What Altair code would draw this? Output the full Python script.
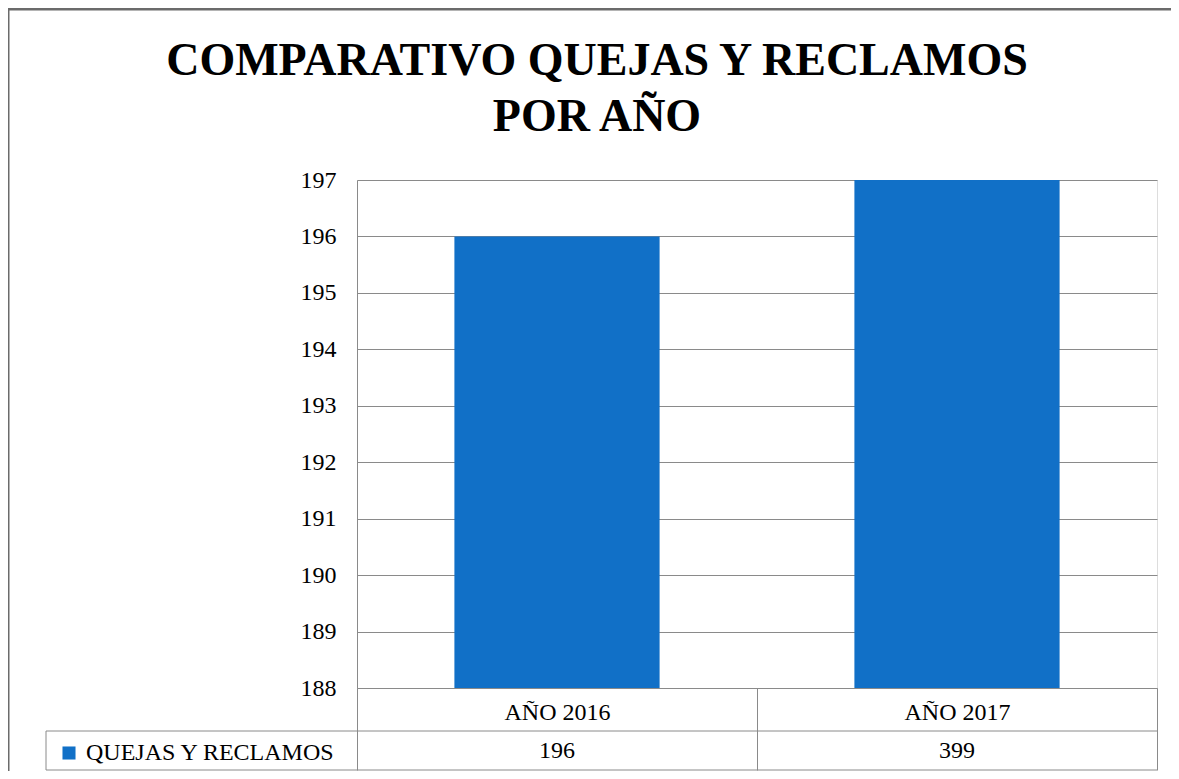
import altair as alt
import pandas as pd

# ---- data ----
categorias = ["AÑO 2016", "AÑO 2017"]
valores = [196, 399]
serie = ["QUEJAS Y RECLAMOS", "QUEJAS Y RECLAMOS"]
y_ticks = [188, 189, 190, 191, 192, 193, 194, 195, 196, 197]
y_dominio = [188, 197]
titulo = ["COMPARATIVO QUEJAS Y RECLAMOS", "POR AÑO"]

df = pd.DataFrame({"categoria": categorias, "valor": valores, "serie": serie})
one = pd.DataFrame({"k": [0]})

W, H = 800, 508
FONT = "Liberation Serif"
GRAY = "#8a8a8a"
BORDER = "#6b6b6b"
BLUE = "#1170c7"

x_scale = alt.Scale(domain=categorias, paddingInner=0, paddingOuter=0)
y_scale = alt.Scale(domain=y_dominio, nice=False, zero=False, clamp=True)

x_axis = alt.Axis(
    title=None, labelAngle=0, labelFont=FONT, labelFontSize=24, labelColor="black",
    tickBand="extent", tickSize=82, tickColor=GRAY, tickWidth=1,
    domainColor=GRAY, domainWidth=1, labelPadding=-70, grid=False,
)
y_axis = alt.Axis(
    title=None, values=y_ticks, labelFont=FONT, labelFontSize=24, labelColor="black",
    ticks=False, labelPadding=21, domainColor=GRAY, domainWidth=1,
    grid=True, gridColor=GRAY, gridWidth=1,
)

bars = alt.Chart(df).mark_bar(width=alt.RelativeBandSize(0.513), clip=True).encode(
    x=alt.X("categoria:N", scale=x_scale, axis=x_axis),
    y=alt.Y("valor:Q", scale=y_scale, axis=y_axis),
    y2=alt.datum(y_dominio[0]),
    color=alt.Color(
        "serie:N",
        scale=alt.Scale(range=[BLUE]),
        legend=alt.Legend(
            orient="none", legendX=-300, legendY=561, title=None,
            symbolType="square", symbolSize=170, symbolStrokeWidth=0,
            labelFont=FONT, labelFontSize=24, labelColor="black",
            labelOffset=5, padding=0, labelLimit=400,
        ),
    ),
)

values_row = alt.Chart(df).mark_text(font=FONT, fontSize=24, color="black", baseline="middle").encode(
    x=alt.X("categoria:N", scale=x_scale),
    y=alt.value(571),
    text=alt.Text("valor:Q"),
)

rule = alt.Chart(one).mark_rule(color=GRAY, strokeWidth=1)
table_lines = [
    rule.encode(x=alt.value(-311), x2=alt.value(W), y=alt.value(551)),
    rule.encode(x=alt.value(-311), x2=alt.value(W), y=alt.value(590)),
    rule.encode(x=alt.value(-311), y=alt.value(551), y2=alt.value(590)),
]

frame = alt.Chart(one).mark_rule(color=BORDER, strokeWidth=3)
frame_lines = [
    frame.encode(x=alt.value(-360), x2=alt.value(W + 40), y=alt.value(-171)),
    frame.encode(x=alt.value(-349), y=alt.value(-172), y2=alt.value(H + 100)),
]

chart = alt.layer(bars, values_row, *table_lines, *frame_lines).properties(
    width=W,
    height=H,
    title=alt.TitleParams(
        text=titulo, font=FONT, fontSize=46, fontWeight="bold", color="black",
        anchor="middle", frame="group", dx=-160, offset=-134, lineHeight=56,
    ),
    autosize=alt.AutoSizeParams(type="none"),
    padding={"left": 349, "top": 172, "right": 14, "bottom": 83},
).configure_view(stroke=None).configure(background="white", font=FONT)

chart.save("out.html", embed_options={"renderer": "svg", "actions": False})
